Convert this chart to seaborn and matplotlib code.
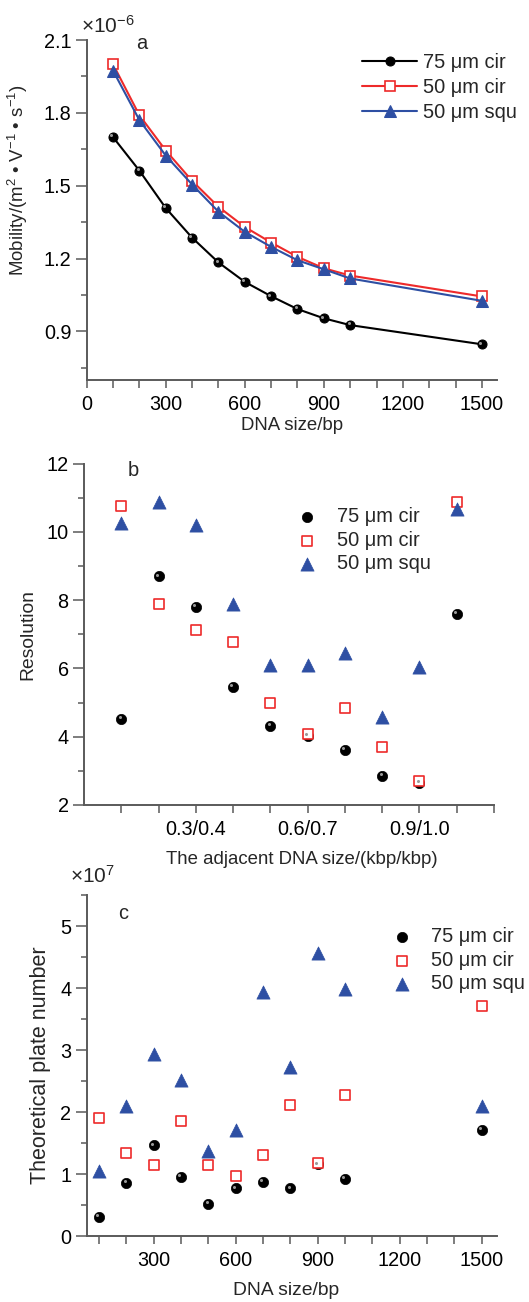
import numpy as np
import pandas as pd
import matplotlib
matplotlib.use("Agg")
import matplotlib.pyplot as plt
import matplotlib.transforms as mtransforms
from matplotlib.ticker import MultipleLocator, FixedLocator, FuncFormatter
import seaborn as sns

# ---------------- data ----------------
series_names = ["75 \u03bcm cir", "50 \u03bcm cir", "50 \u03bcm squ"]

# panel a: mobility (x 1e-6 m2 V-1 s-1)
size_a = [100, 200, 300, 400, 500, 600, 700, 800, 900, 1000, 1500]
mob_75cir = [1.70, 1.562, 1.408, 1.286, 1.184, 1.104, 1.045, 0.992, 0.954, 0.926, 0.847]
mob_50cir = [2.00, 1.79, 1.645, 1.52, 1.413, 1.33, 1.266, 1.207, 1.16, 1.13, 1.044]
mob_50squ = [1.974, 1.77, 1.624, 1.505, 1.393, 1.31, 1.248, 1.193, 1.156, 1.118, 1.026]

# panel b: resolution for adjacent DNA size pairs (kbp/kbp)
pairs_b = ["0.1/0.2", "0.2/0.3", "0.3/0.4", "0.4/0.5", "0.5/0.6",
           "0.6/0.7", "0.7/0.8", "0.8/0.9", "0.9/1.0", "1.0/1.5"]
pair_labels_shown = ["0.3/0.4", "0.6/0.7", "0.9/1.0"]
res_75cir = [4.52, 8.70, 7.80, 5.47, 4.32, 4.03, 3.62, 2.86, 2.64, 7.60]
res_50cir = [10.77, 7.89, 7.14, 6.77, 4.99, 4.08, 4.83, 3.70, 2.71, 10.89]
res_50squ = [10.25, 10.87, 10.20, 7.89, 6.10, 6.10, 6.45, 4.58, 6.05, 10.66]

# panel c: theoretical plate number (x 1e7)
size_c = [100, 200, 300, 400, 500, 600, 700, 800, 900, 1000, 1500]
tpn_75cir = [0.31, 0.86, 1.46, 0.95, 0.52, 0.77, 0.87, 0.77, 1.155, 0.92, 1.71]
tpn_50cir = [1.91, 1.34, 1.14, 1.86, 1.14, 0.97, 1.31, 2.11, 1.17, 2.27, 3.71]
tpn_50squ = [1.05, 2.10, 2.94, 2.51, 1.37, 1.71, 3.93, 2.72, 4.56, 3.98, 2.10]

# ---------------- style ----------------
sns.set_theme(style="ticks")
plt.rcParams["font.family"] = ["Liberation Sans", "DejaVu Sans"]
plt.rcParams["mathtext.fontset"] = "custom"
plt.rcParams["mathtext.rm"] = "Liberation Sans"
plt.rcParams["mathtext.it"] = "Liberation Sans:italic"
plt.rcParams["mathtext.bf"] = "Liberation Sans:bold"

BLACK = "#000000"
RED = "#EE2A2A"
BLUE = "#2E4FA3"
SPINE = "#5a5a5a"
TICK_FS = 14.3
LEG_FS = 14.4
LAB_FS = 13.4

fig = plt.figure(figsize=(5.29, 13.02), dpi=100)
W, H = 529.0, 1302.0


def add_axes(left, right, top, bottom):
    return fig.add_axes([left / W, 1 - bottom / H, (right - left) / W, (bottom - top) / H])


ax_a = add_axes(86.7, 496.7, 40, 380)
ax_b = add_axes(84.0, 494.0, 463.7, 805)
ax_c = add_axes(86.7, 496.7, 895, 1236)


def style_axes(ax):
    sns.despine(ax=ax)
    for s in ["left", "bottom"]:
        ax.spines[s].set_color(SPINE)
        ax.spines[s].set_linewidth(1.4)
    ax.tick_params(axis="both", which="both", direction="out", color=SPINE,
                   width=1.1, labelsize=TICK_FS, labelcolor="black")
    ax.tick_params(axis="y", which="major", length=8, pad=3)
    ax.tick_params(axis="y", which="minor", length=4.5)
    ax.tick_params(axis="x", which="both", length=6, pad=5)


def add_ball_highlight(ax, x, y):
    # tiny grey highlight to mimic the shaded sphere markers
    off = mtransforms.ScaledTranslation(-1.2 / 72, 1.2 / 72, fig.dpi_scale_trans)
    ax.plot(x, y, linestyle="none", marker="o", markersize=2.2,
            color="#9a9a9a", markeredgewidth=0, transform=ax.transData + off, zorder=5)


# ---------------- panel a ----------------
sns.lineplot(x=size_a, y=mob_75cir, ax=ax_a, color=BLACK, linewidth=1.5,
             marker="o", markersize=6.5, markerfacecolor=BLACK, markeredgecolor=BLACK,
             label=series_names[0])
sns.lineplot(x=size_a, y=mob_50cir, ax=ax_a, color=RED, linewidth=1.5,
             marker="s", markersize=6.5, markerfacecolor="white", markeredgecolor=RED,
             markeredgewidth=1.2, label=series_names[1])
sns.lineplot(x=size_a, y=mob_50squ, ax=ax_a, color=BLUE, linewidth=1.5,
             marker="^", markersize=8.5, markerfacecolor=BLUE, markeredgecolor=BLUE,
             label=series_names[2])
add_ball_highlight(ax_a, size_a, mob_75cir)
ax_a.set_xlim(0, 1556)
ax_a.set_ylim(0.7, 2.1)
ax_a.xaxis.set_major_locator(MultipleLocator(100))
ax_a.xaxis.set_major_formatter(FuncFormatter(lambda v, p: f"{int(round(v))}" if int(round(v)) % 300 == 0 else ""))
ax_a.yaxis.set_major_locator(FixedLocator([0.9, 1.2, 1.5, 1.8, 2.1]))
ax_a.yaxis.set_minor_locator(FixedLocator([0.75, 1.05, 1.35, 1.65, 1.95]))
ax_a.yaxis.set_major_formatter(FuncFormatter(lambda v, p: f"{v:.1f}"))
style_axes(ax_a)
ax_a.set_xlabel("DNA size/bp", fontsize=LAB_FS, labelpad=2)
ax_a.set_ylabel("Mobility/(m$^2$ \u2022 V$^{-1}$ \u2022 s$^{-1}$)", fontsize=LAB_FS, labelpad=6)
ax_a.yaxis.set_label_coords(-0.138, 0.588)
ax_a.text(-0.014, 1.022, "\u00d710$^{-6}$", transform=ax_a.transAxes, fontsize=15,
          ha="left", va="baseline")
ax_a.text(0.134, 0.991, "a", transform=ax_a.transAxes, fontsize=LEG_FS, ha="center", va="center")
ax_a.legend(loc="upper left", bbox_to_anchor=(0.672, 0.962), frameon=False, fontsize=LEG_FS,
            handlelength=2.75, handletextpad=0.3, labelspacing=0.3, borderpad=0,
            borderaxespad=0)

# ---------------- panel b ----------------
pos_b = np.arange(1, len(pairs_b) + 1)
sns.scatterplot(x=pos_b, y=res_75cir, ax=ax_b, color=BLACK, marker="o", s=55,
                edgecolor=BLACK, linewidth=0.5, label=series_names[0], zorder=3)
sns.scatterplot(x=pos_b, y=res_50cir, ax=ax_b, marker="s", s=50, facecolor="white",
                edgecolor=RED, linewidth=1.2, label=series_names[1], zorder=3)
sns.scatterplot(x=pos_b, y=res_50squ, ax=ax_b, color=BLUE, marker="^", s=90,
                edgecolor=BLUE, linewidth=0.5, label=series_names[2], zorder=3)
add_ball_highlight(ax_b, pos_b, res_75cir)
ax_b.set_xlim(0, len(pairs_b) + 1)
ax_b.set_ylim(2, 12)
ax_b.set_xticks(np.arange(1, len(pairs_b) + 2))
ax_b.set_xticklabels([p if p in pair_labels_shown else "" for p in pairs_b] + [""])
ax_b.yaxis.set_major_locator(MultipleLocator(2))
ax_b.yaxis.set_minor_locator(MultipleLocator(1))
style_axes(ax_b)
ax_b.set_xlabel("The adjacent DNA size/(kbp/kbp)", fontsize=LAB_FS, labelpad=11)
ax_b.xaxis.set_label_coords(0.532, -0.135)
ax_b.set_ylabel("Resolution", fontsize=LAB_FS + 0.5, labelpad=7)
ax_b.text(0.119, 0.9815, "b", transform=ax_b.transAxes, fontsize=LEG_FS, ha="center", va="center")
ax_b.legend(loc="upper left", bbox_to_anchor=(0.52, 0.872), frameon=False, fontsize=LEG_FS,
            handlelength=1.0, handletextpad=1.0, labelspacing=0.22, borderpad=0,
            borderaxespad=0, scatterpoints=1)

# ---------------- panel c ----------------
sns.scatterplot(x=size_c, y=tpn_75cir, ax=ax_c, color=BLACK, marker="o", s=55,
                edgecolor=BLACK, linewidth=0.5, label=series_names[0], zorder=3)
sns.scatterplot(x=size_c, y=tpn_50cir, ax=ax_c, marker="s", s=50, facecolor="white",
                edgecolor=RED, linewidth=1.2, label=series_names[1], zorder=3)
sns.scatterplot(x=size_c, y=tpn_50squ, ax=ax_c, color=BLUE, marker="^", s=90,
                edgecolor=BLUE, linewidth=0.5, label=series_names[2], zorder=3)
add_ball_highlight(ax_c, size_c, tpn_75cir)
ax_c.set_xlim(55, 1555)
ax_c.set_ylim(0, 5.5)
ax_c.xaxis.set_major_locator(MultipleLocator(100))
ax_c.xaxis.set_major_formatter(FuncFormatter(lambda v, p: f"{int(round(v))}" if int(round(v)) % 300 == 0 else ""))
ax_c.yaxis.set_major_locator(MultipleLocator(1))
ax_c.yaxis.set_minor_locator(MultipleLocator(0.5))
style_axes(ax_c)
ax_c.set_xlabel("DNA size/bp", fontsize=LAB_FS + 0.5, labelpad=11)
ax_c.xaxis.set_label_coords(0.486, -0.135)
ax_c.set_ylabel("Theoretical plate number", fontsize=15.5, labelpad=7)
ax_c.text(-0.04, 1.035, "\u00d710$^{7}$", transform=ax_c.transAxes, fontsize=15,
          ha="left", va="baseline")
ax_c.text(0.0885, 0.947, "c", transform=ax_c.transAxes, fontsize=LEG_FS, ha="center", va="center")
ax_c.legend(loc="upper left", bbox_to_anchor=(0.745, 0.905), frameon=False, fontsize=LEG_FS,
            handlelength=1.0, handletextpad=0.95, labelspacing=0.22, borderpad=0,
            borderaxespad=0, scatterpoints=1)

fig.savefig("out.png", dpi=100)
